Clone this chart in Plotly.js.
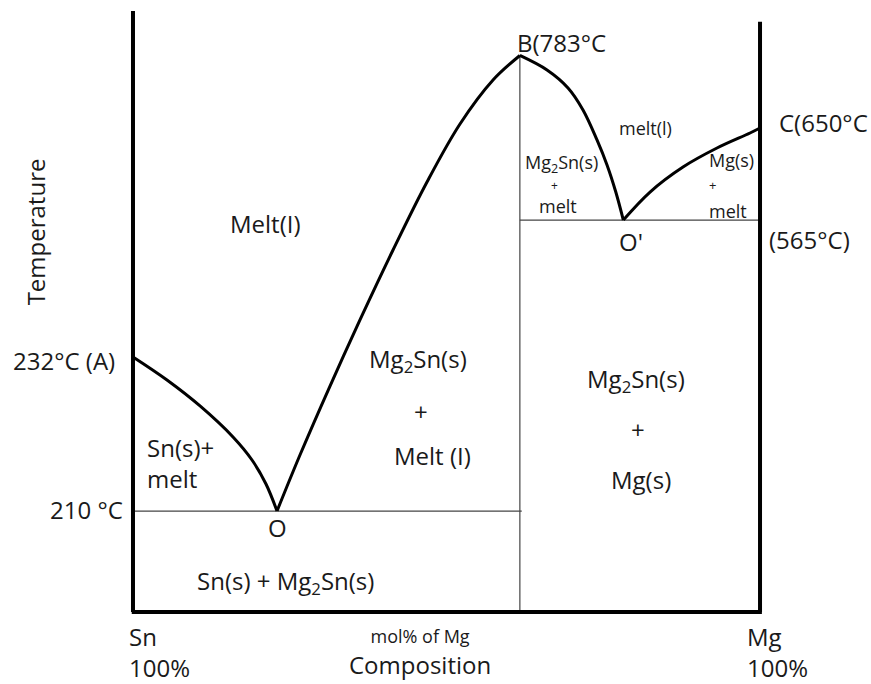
<!DOCTYPE html>
<html>
<head>
<meta charset="utf-8">
<script src="https://cdn.plot.ly/plotly-3.0.1.min.js"></script>
<style>html,body{margin:0;padding:0;background:#fff;}#chart{width:871px;height:684px;}</style>
</head>
<body>
<div id="chart"></div>
<script>
// Composition axis: 0 = 100% Sn, 100 = 100% Mg. Temperature axis: schematic level (0 = base, 100 = top)
const frameLeftX = [0, 0];
const frameLeftY = [0, 100];
const frameBottomX = [-0.2, 100.3];
const frameBottomY = [0, 0];
const frameRightX = [100, 100];
const frameRightY = [0, 98.2];

// Liquidus A -> O (eutectic at Sn side)
const liqAO_x = [0, 5.42, 10.69, 15.95, 18.98, 21.21, 22.97];
const liqAO_y = [42.43, 38.6, 34.28, 29.12, 25.29, 21.3, 16.8];
// Liquidus O -> B (Mg2Sn melting point)
const liqOB_x = [22.97, 26.63, 31.42, 36.2, 41.47, 46.89, 52.15, 57.42, 61.7];
const liqOB_y = [16.8, 26.12, 37.6, 48.59, 60.23, 71.55, 81.2, 88.52, 92.6];
// Liquidus B -> O'
const liqBO2_x = [61.7, 66.03, 69.38, 71.77, 74.0, 75.6, 77.0, 78.2];
const liqBO2_y = [92.6, 90.18, 87.19, 83.53, 78.54, 74.38, 69.88, 65.22];
// Liquidus O' -> C (Mg melting point)
const liqO2C_x = [78.2, 82.46, 87.72, 93.14, 98.41, 100];
const liqO2C_y = [65.22, 69.88, 74.04, 77.2, 79.7, 80.53];

// Eutectic lines and compound line
const eutO_x = [0, 62.0];
const eutO_y = [16.8, 16.8];
const eutO2_x = [61.7, 100];
const eutO2_y = [65.22, 65.22];
const compound_x = [61.7, 61.7];
const compound_y = [-0.3, 92.6];

function line(x, y, w, c, spline) {
  return {type: 'scatter', mode: 'lines', x: x, y: y, hoverinfo: 'skip',
    line: {width: w, color: c, shape: spline ? 'spline' : 'linear', smoothing: 1.0}};
}

const traces = [
  line(eutO_x, eutO_y, 1.2, '#444', false),
  line(eutO2_x, eutO2_y, 1.2, '#444', false),
  line(compound_x, compound_y, 1.2, '#444', false),
  line(liqAO_x, liqAO_y, 3, '#000', true),
  line(liqOB_x, liqOB_y, 3, '#000', true),
  line(liqBO2_x, liqBO2_y, 3, '#000', true),
  line(liqO2C_x, liqO2C_y, 3, '#000', true),
  line(frameLeftX, frameLeftY, 4, '#000', false),
  line(frameBottomX, frameBottomY, 4, '#000', false),
  line(frameRightX, frameRightY, 4, '#000', false)
];

const F = 'Open Sans, Noto Sans, sans-serif';
const TC = '#1a1a1a';
const BIG = 24, SMALL = 18;
function ann(text, x, y, size, xanchor, extra) {
  const a = {text: text, x: x, y: y, xref: 'x', yref: 'y', showarrow: false,
    font: {family: F, size: size, color: TC}, xanchor: xanchor || 'center', yanchor: 'middle'};
  return Object.assign(a, extra || {});
}

const annotations = [
  ann('Temperature', -15.6, 63.2, BIG, 'center', {textangle: -90}),
  ann('232°C (A)', -2.6, 41.9, BIG, 'right'),
  ann('210 °C', -1.2, 17.0, BIG, 'right'),
  ann('Melt(I)', 21.2, 64.6, BIG),
  ann('Sn(s)+<br>melt', 1.9, 24.8, BIG, 'left', {align: 'left'}),
  ann('O', 23.0, 14.0, BIG),
  ann('Mg<sub>2</sub>Sn(s)', 45.4, 41.9, BIG),
  ann('+', 45.9, 33.3, BIG),
  ann('Melt (I)', 47.7, 26.1, BIG),
  ann('Sn(s) + Mg<sub>2</sub>Sn(s)', 24.4, 5.0, BIG),
  ann('Sn<br>100%', -1.0, -6.7, BIG, 'left', {align: 'left'}),
  ann('<span style="font-size:18px">mol% of Mg</span><br>Composition', 45.7, -6.8, BIG),
  ann('Mg<br>100%', 97.6, -6.7, BIG, 'left', {align: 'left'}),
  ann('B(783°C', 60.9, 94.7, BIG, 'left'),
  ann('C(650°C', 102.7, 81.5, BIG, 'left'),
  ann('(565°C)', 101.1, 61.9, BIG, 'left'),
  ann('melt(l)', 81.8, 80.5, SMALL),
  ann('Mg<sub>2</sub>Sn(s)', 68.4, 74.6, SMALL),
  ann('+', 67.3, 70.9, 12),
  ann('melt', 67.8, 67.5, SMALL),
  ann('Mg(s)', 95.5, 75.2, SMALL),
  ann('+', 92.5, 71.0, 13),
  ann('melt', 94.9, 66.8, SMALL),
  ann("O'", 79.4, 61.6, BIG),
  ann('Mg<sub>2</sub>Sn(s)', 80.2, 38.6, BIG),
  ann('+', 80.5, 30.3, BIG),
  ann('Mg(s)', 81.0, 22.0, BIG)
];

const layout = {
  width: 871, height: 684,
  margin: {l: 0, r: 0, t: 0, b: 0, pad: 0},
  paper_bgcolor: '#fff', plot_bgcolor: '#fff',
  showlegend: false,
  xaxis: {range: [-21.21, 117.70], visible: false, fixedrange: true},
  yaxis: {range: [-11.98, 101.83], visible: false, fixedrange: true},
  annotations: annotations
};

Plotly.newPlot('chart', traces, layout, {staticPlot: true, displayModeBar: false});
</script>
</body>
</html>
